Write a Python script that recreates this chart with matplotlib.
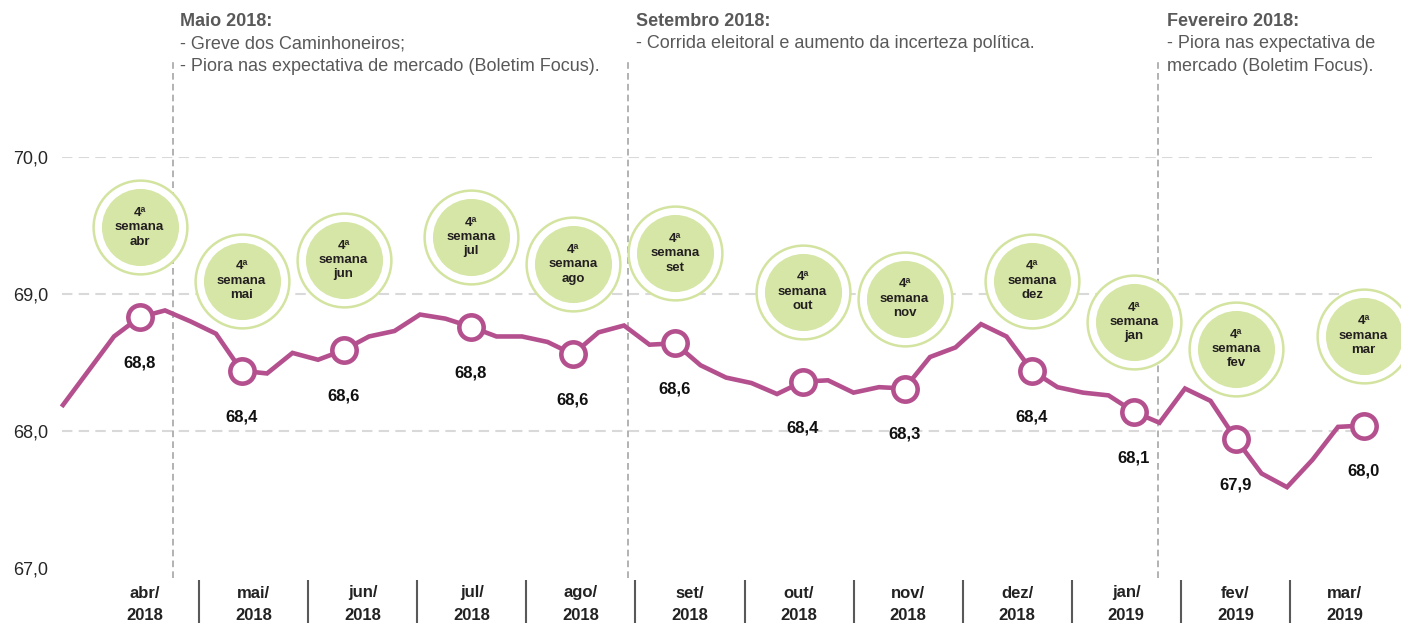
import numpy as np
import matplotlib
matplotlib.use("Agg")
import matplotlib.pyplot as plt
from matplotlib.transforms import offset_copy

plt.rcParams['font.family'] = ['Liberation Sans', 'DejaVu Sans']

# ---------------- data ----------------
weekly_values = [68.19, 68.44, 68.69, 68.83, 68.88, 68.80, 68.71, 68.44,
                 68.42, 68.57, 68.52, 68.59, 68.69, 68.73, 68.85, 68.82,
                 68.76, 68.69, 68.69, 68.65, 68.56, 68.72, 68.77, 68.63,
                 68.64, 68.48, 68.39, 68.35, 68.27, 68.36, 68.37, 68.28,
                 68.32, 68.31, 68.54, 68.61, 68.78, 68.69, 68.44, 68.32,
                 68.28, 68.26, 68.14, 68.06, 68.31, 68.22, 67.94, 67.69,
                 67.59, 67.79, 68.03, 68.04]
fourth_week_idx = [3, 7, 11, 16, 20, 24, 29, 33, 38, 42, 46, 51]
fourth_week_labels = ['68,8', '68,4', '68,6', '68,8', '68,6', '68,6',
                      '68,4', '68,3', '68,4', '68,1', '67,9', '68,0']
month_names = ['abr', 'mai', 'jun', 'jul', 'ago', 'set', 'out', 'nov',
               'dez', 'jan', 'fev', 'mar']
month_years = ['2018'] * 9 + ['2019'] * 3
y_ticks = [67.0, 68.0, 69.0, 70.0]
y_tick_labels = ['67,0', '68,0', '69,0', '70,0']
event_weeks = [4.3, 22.15, 42.95]
event_titles = ['Maio 2018:', 'Setembro 2018:', 'Fevereiro 2018:']
event_lines = [['- Greve dos Caminhoneiros;',
                '- Piora nas expectativa de mercado (Boletim Focus).'],
               ['- Corrida eleitoral e aumento da incerteza política.'],
               ['- Piora nas expectativa de',
                'mercado (Boletim Focus).']]

# ---------------- style ----------------
W, H = 1401, 623
LINE_C = '#B5508F'
GRID_C = '#D9D9D9'
EVENT_C = '#A6A6A6'
BUB_FILL = '#D6E6A6'
BUB_RING = '#D3E3A0'
TXT_GRAY = '#595959'

fig = plt.figure(figsize=(W / 100, H / 100), dpi=100)
ax = fig.add_axes([62 / W, 1 - 568 / H, 1310 / W, 411 / H])
x = np.arange(len(weekly_values))
vals = np.array(weekly_values)
ax.set_xlim(-1 / 25.5, 1309 / 25.5)
ax.set_ylim(67, 70)

for s in ax.spines.values():
    s.set_visible(False)
ax.set_xticks([])
ax.set_yticks(y_ticks)
ax.set_yticklabels(y_tick_labels, fontsize=13, color='#262626')
ax.tick_params(axis='y', length=0, pad=10)

for yv in y_ticks[1:]:
    ax.axhline(yv, color=GRID_C, lw=1.5, ls=(0, (5, 3)), zorder=1)

# event lines
ax.vlines(event_weeks, 66.93, 70.72, colors=EVENT_C, lw=1.2,
          linestyles=(0, (4, 2.5)), clip_on=False, zorder=2)

# main line
ax.plot(x, vals, color=LINE_C, lw=3.3, zorder=3, solid_joinstyle='miter',
        clip_on=False)
ax.plot(x[fourth_week_idx], vals[fourth_week_idx], 'o', ms=17.5, mfc='white',
        mec=LINE_C, mew=3.3, zorder=4, clip_on=False)
for i, lbl in zip(fourth_week_idx, fourth_week_labels):
    ax.annotate(lbl, (x[i], vals[i]), xytext=(0, -33), textcoords='offset points',
                ha='center', va='center', fontsize=12, fontweight='bold',
                color='#111111', zorder=5)

# bubbles
trans = offset_copy(ax.transData, fig=fig, x=0, y=90, units='dots')
ax.plot(x[fourth_week_idx], vals[fourth_week_idx], 'o', ms=67.5, mfc='white',
        mec=BUB_RING, mew=1.8, transform=trans, zorder=6, clip_on=False)
ax.plot(x[fourth_week_idx], vals[fourth_week_idx], 'o', ms=55.5, mfc=BUB_FILL,
        mec='none', transform=trans, zorder=7, clip_on=False)
for i, m in zip(fourth_week_idx, month_names):
    ax.text(x[i], vals[i], '4ª\nsemana\n' + m, transform=trans, ha='center',
            va='center', fontsize=9.5, fontweight='bold', color='#231F20',
            linespacing=1.25, zorder=8)

# event text
text_x = [180, 636, 1167]
for tx, title, lines in zip(text_x, event_titles, event_lines):
    fig.text(tx / W, 1 - 21 / H, title, ha='left', va='center', fontsize=13,
             fontweight='bold', color=TXT_GRAY)
    for k, ln in enumerate(lines):
        fig.text(tx / W, 1 - (44 + 22.5 * k) / H, ln, ha='left', va='center',
                 fontsize=13, color=TXT_GRAY)

# month axis
mx = fig.add_axes([90 / W, 0, 1309 / W, 43 / H])
mx.set_xlim(0, 12)
mx.set_ylim(0, 43)
mx.axis('off')
mx.vlines(np.arange(1, 12), 0, 43, colors='#595959', lw=1.5)
for k, (m, yr) in enumerate(zip(month_names, month_years)):
    mx.text(k + 0.5, 30, m + '/', ha='center', va='center', fontsize=12,
            fontweight='bold', color='#222222')
    mx.text(k + 0.5, 8, yr, ha='center', va='center', fontsize=12,
            fontweight='bold', color='#222222')

fig.savefig('out.png', dpi=100)
